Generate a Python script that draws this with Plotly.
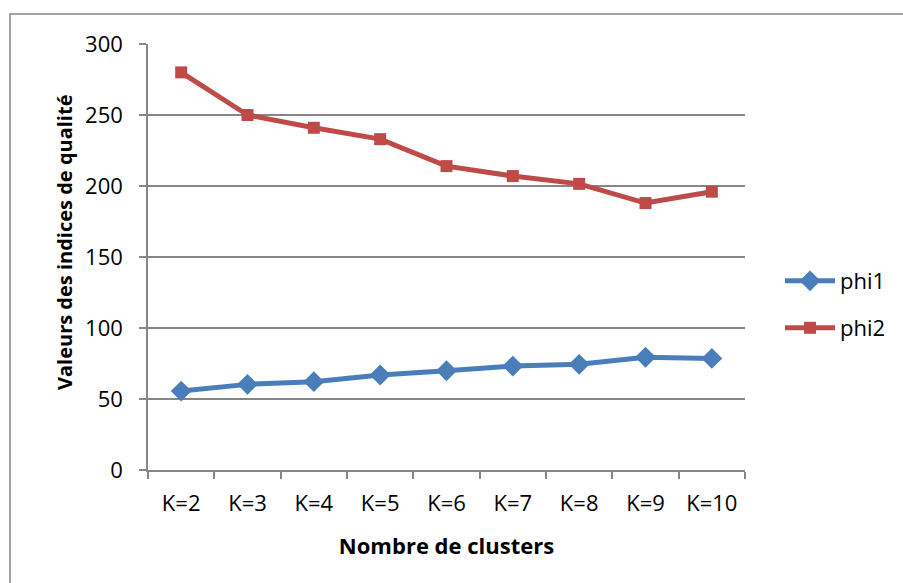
import plotly.graph_objects as go

# Number of clusters K and the two quality indices
categories = ["K=2", "K=3", "K=4", "K=5", "K=6", "K=7", "K=8", "K=9", "K=10"]
phi1 = [55.6, 60.3, 62.2, 66.9, 69.9, 73.2, 74.4, 79.4, 78.6]
phi2 = [280, 250, 241, 233, 214, 207, 201.5, 188, 196]
y_ticks = [0, 50, 100, 150, 200, 250, 300]

FONT = "Open Sans"
GRID = "#868686"
BLUE = "#4A7EBB"
RED = "#BE4B48"

W, H = 903, 583
L, R, T, B = 148, 158, 44, 113
pw, ph = W - L - R, H - T - B


def px_x(v):
    return (v - L) / pw


def px_y(v):
    return (H - B - v) / ph


fig = go.Figure()
fig.add_trace(go.Scatter(
    x=categories, y=phi1, name="phi1", mode="lines+markers",
    line=dict(color=BLUE, width=5),
    marker=dict(symbol="diamond", size=16, color=BLUE),
    legend="legend", showlegend=True,
))
fig.add_trace(go.Scatter(
    x=categories, y=phi2, name="phi2", mode="lines+markers",
    line=dict(color=RED, width=5),
    marker=dict(symbol="square", size=12, color=RED),
    legend="legend2", showlegend=True,
))

legend_common = dict(
    font=dict(family=FONT, size=22, color="#000"),
    bgcolor="rgba(0,0,0,0)", xanchor="left", yanchor="middle",
    visible=True, itemwidth=50,
)

fig.update_layout(
    width=W, height=H,
    margin=dict(l=L, r=R, t=T, b=B),
    paper_bgcolor="white", plot_bgcolor="white",
    font=dict(family=FONT, size=22, color="#000"),
    showlegend=True,
    legend=dict(x=px_x(780), y=px_y(281), **legend_common),
    legend2=dict(x=px_x(780), y=px_y(328), **legend_common),
    xaxis=dict(
        type="category", range=[-0.5, 8.5],
        showline=True, linecolor=GRID, linewidth=1.5,
        ticks="outside", tickson="boundaries", ticklen=7, tickcolor=GRID, tickwidth=1.5,
        showgrid=False, ticklabelstandoff=13,
        tickfont=dict(family=FONT, size=22),
        title=dict(text="<b>Nombre de clusters</b>", font=dict(family=FONT, size=22), standoff=22),
    ),
    yaxis=dict(
        range=[0, 300], tickvals=y_ticks,
        showline=True, linecolor=GRID, linewidth=1.5,
        ticks="outside", ticklen=7, tickcolor=GRID, tickwidth=1.5,
        showgrid=True, gridcolor=GRID, gridwidth=1.5, zeroline=False,
        ticklabelstandoff=12,
        tickfont=dict(family=FONT, size=22),
    ),
    annotations=[dict(
        text="<b>Valeurs des indices de qualité</b>", textangle=-90,
        xref="paper", yref="paper", x=px_x(64), y=px_y(243),
        xanchor="center", yanchor="middle", showarrow=False,
        font=dict(family=FONT, size=20, color="#000"),
    )],
    shapes=[dict(
        type="rect", xref="paper", yref="paper",
        x0=px_x(10), x1=px_x(1000), y0=px_y(700), y1=px_y(14),
        line=dict(color=GRID, width=1.5), fillcolor="rgba(0,0,0,0)", layer="below",
    )],
)

fig.write_html("out.html")
